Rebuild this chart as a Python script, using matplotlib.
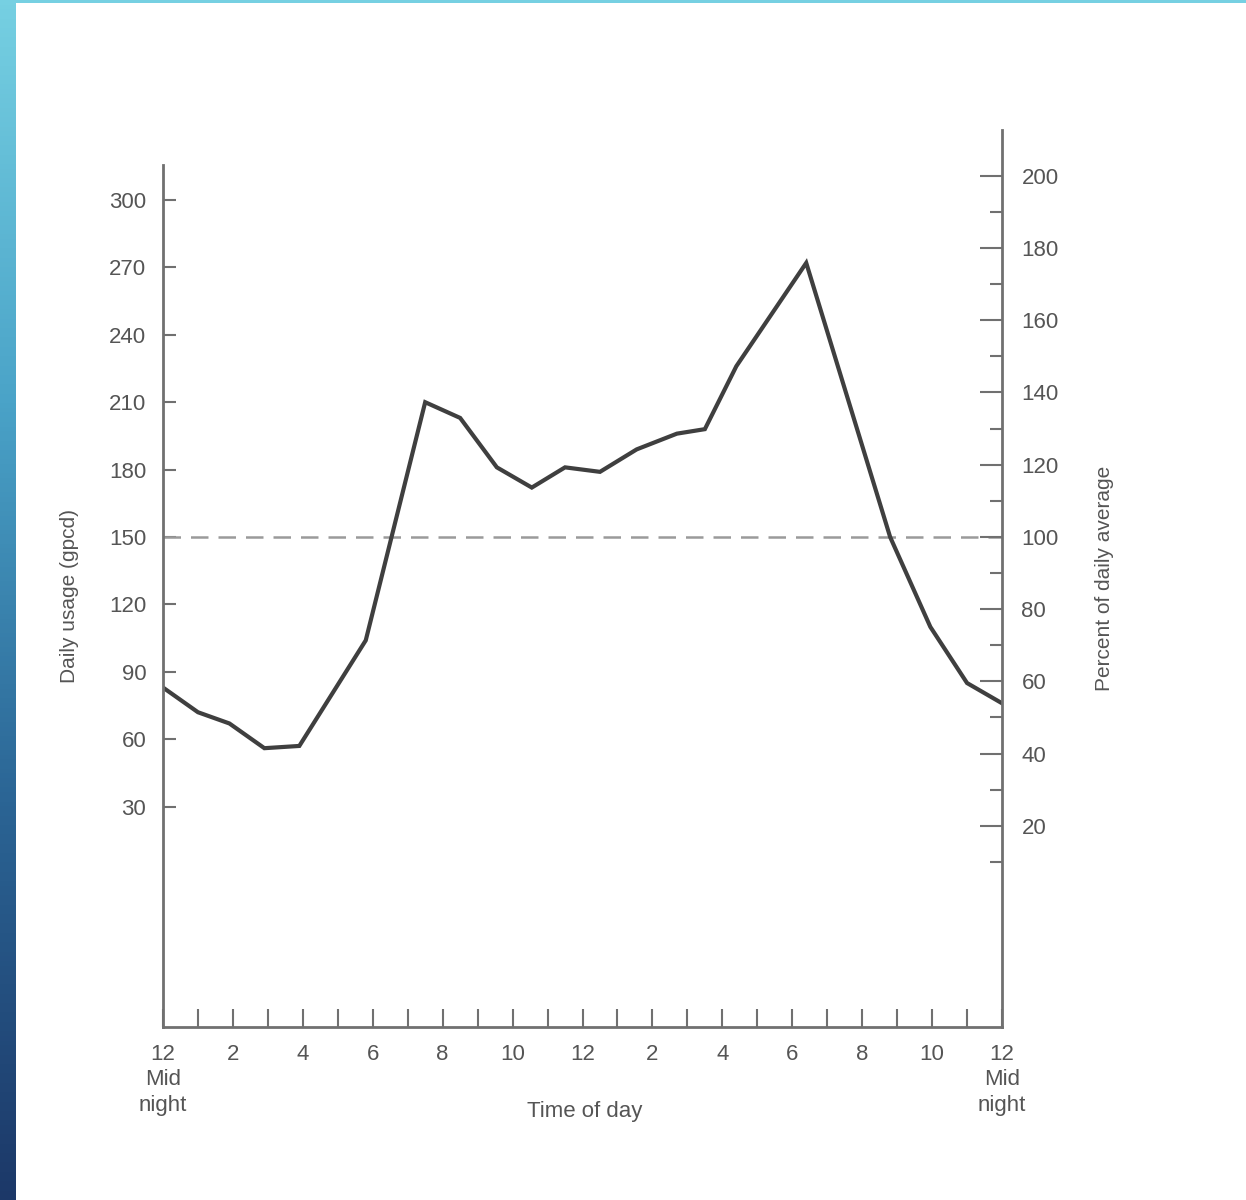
import numpy as np
import matplotlib
matplotlib.use("Agg")
import matplotlib.pyplot as plt
from matplotlib.colors import LinearSegmentedColormap

# ---- data ----
hours = [0, 1, 1.9, 2.9, 3.9, 5.8, 7.5, 8.5, 9.55, 10.55, 11.5, 12.5, 13.55,
         14.7, 15.5, 16.4, 18.4, 20.8, 21.95, 23.0, 24.0]
usage_gpcd = [83, 72, 67, 56, 57, 104, 210, 203, 181, 172, 181, 179, 189,
              196, 198, 226, 272, 150, 110, 85, 76]
daily_average = 150
left_ticks = [30, 60, 90, 120, 150, 180, 210, 240, 270, 300]
right_major = [20, 40, 60, 80, 100, 120, 140, 160, 180, 200]
right_minor = [10, 30, 50, 70, 90, 110, 130, 150, 170, 190]
x_tick_pos = list(range(0, 25))
x_labels = ["12\nMid\nnight", "2", "4", "6", "8", "10", "12", "2", "4", "6",
            "8", "10", "12\nMid\nnight"]

W, H = 1246, 1200
fig = plt.figure(figsize=(W / 100, H / 100), dpi=100)
fig.patch.set_facecolor("white")
plt.rcParams["font.family"] = ["Liberation Sans", "DejaVu Sans"]

txt = "#555555"
spc = "#707070"

# left gradient strip and top line
strip = fig.add_axes([0, 0, 16 / W, 1])
cmap = LinearSegmentedColormap.from_list("s", ["#76d0e2", "#4aa3c8", "#2b6595", "#1c3868"])
strip.imshow(np.linspace(0, 1, 256).reshape(-1, 1), aspect="auto", cmap=cmap)
strip.set_axis_off()
top = fig.add_axes([0, 1 - 3 / H, 1, 3 / H])
top.set_axis_off()
top.add_patch(plt.Rectangle((0, 0), 1, 1, color="#76d0e2", transform=top.transAxes))

def px_axes(l, t, r, b):
    return [l / W, 1 - b / H, (r - l) / W, (b - t) / H]

x0, x1 = 163, 1002
bottom_px = 1027

# main (left) axes
ax = fig.add_axes(px_axes(x0, 165, x1, bottom_px))
ax.set_facecolor("none")
ax.set_xlim(0, 24)
ax.set_ylim((874 - bottom_px) * 30 / 67.4, (874 - 165) * 30 / 67.4)
for s in ["top", "right"]:
    ax.spines[s].set_visible(False)
for s in ["left", "bottom"]:
    ax.spines[s].set_color(spc)
    ax.spines[s].set_linewidth(2.0)

ax.plot([0, 24], [daily_average, daily_average], color="#9a9a9a", lw=1.8,
        dashes=(7, 4))
ax.plot(hours, usage_gpcd, color="#3f3f3f", lw=3.0, solid_joinstyle="miter")

ax.set_yticks(left_ticks)
ax.set_yticklabels([str(v) for v in left_ticks])
ax.tick_params(axis="y", direction="in", length=9, width=1.5, color=spc,
               labelsize=16, labelcolor=txt, pad=12)
ax.set_xticks(x_tick_pos)
ax.set_xticklabels([x_labels[i // 2] if i % 2 == 0 else "" for i in x_tick_pos],
                   linespacing=1.3)
ax.tick_params(axis="x", direction="in", length=13, width=1.5, color=spc,
               labelsize=16, labelcolor=txt, pad=12)
ax.set_ylabel("Daily usage (gpcd)", fontsize=15, color=txt, labelpad=22)
fig.text(585 / W, 1 - 1112 / H, "Time of day", fontsize=16, color=txt,
         ha="center", va="center")

# right axes (percent)
ax2 = fig.add_axes(px_axes(x0, 130, x1, bottom_px))
ax2.set_facecolor("none")
ax2.set_xlim(0, 24)
ax2.set_ylim((898 - bottom_px) / 3.611, (898 - 130) / 3.611)
for s in ["top", "left", "bottom"]:
    ax2.spines[s].set_visible(False)
ax2.spines["right"].set_color(spc)
ax2.spines["right"].set_linewidth(2.0)
ax2.set_xticks([])
ax2.yaxis.tick_right()
ax2.yaxis.set_label_position("right")
ax2.set_yticks(right_major)
ax2.set_yticklabels([str(v) for v in right_major])
ax2.set_yticks(right_minor, minor=True)
ax2.tick_params(axis="y", which="major", direction="in", length=16, width=1.5,
                color=spc, labelsize=16, labelcolor=txt, pad=14)
ax2.tick_params(axis="y", which="minor", direction="in", length=9, width=1.5,
                color=spc)
ax2.set_ylabel("Percent of daily average", fontsize=15, color=txt, labelpad=26)

fig.savefig("out.png", dpi=100, facecolor="white")
